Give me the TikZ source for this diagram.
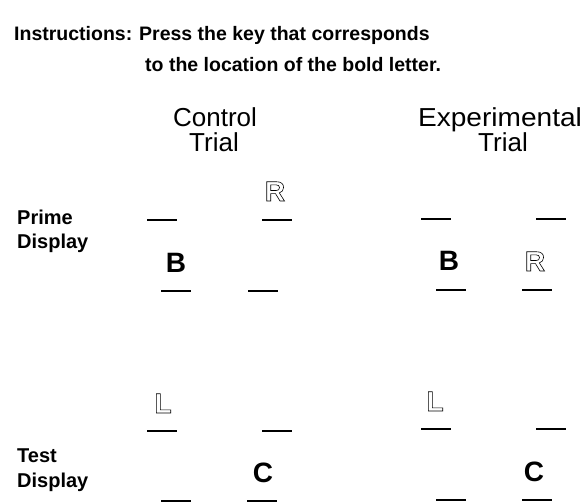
\documentclass[tikz,border=0pt]{standalone}
\usepackage{fontspec}
\setmainfont{Liberation Sans}
% stroked (hollow) glyphs via the PDF text rendering mode
\newcommand{\hollow}[1]{\special{pdf:literal direct 1 Tr 0.6 w}#1\special{pdf:literal direct 0 Tr}}
\tikzset{
  lbl/.style={inner sep=0pt, anchor=base west, font=\fontsize{20}{24}\bfseries\selectfont},
  instr/.style={inner sep=0pt, anchor=base west, font=\fontsize{19.5}{24}\bfseries\selectfont},
  head/.style={inner sep=0pt, anchor=base, font=\fontsize{26}{30}\selectfont},
  solid letter/.style={inner sep=0pt, anchor=base, font=\fontsize{28}{32}\bfseries\selectfont},
  open letter/.style={inner sep=0pt, anchor=base, font=\fontsize{28}{32}\bfseries\selectfont},
  keyline/.style={line width=1.3pt, line cap=butt}
}
% one response position: a short line centred at (x,y)
\newcommand{\keyat}[2]{\draw[keyline] (#1-15,#2) -- (#1+15,#2);}
\begin{document}
\begin{tikzpicture}[x=1pt, y=-1pt]
\useasboundingbox (0,0) rectangle (587,502);

% instructions
\node[instr] (instr) at (14,41) {Instructions:};
\node[instr] (instrA) at (139,41) {Press the key that corresponds};
\node[instr] (instrB) at (145,72) {to the location of the bold letter.};

% column headings
\node[head] (ctrl) at (215,127) {Control};
\node[head] (ctrlB) at (214,152) {Trial};
\node[head] (expt) at (500,127) {\addfontfeature{FakeStretch=1.08}Experimental};
\node[head] (exptB) at (503,152) {Trial};

% row labels
\node[lbl] (primeA) at (17,225) {Prime};
\node[lbl] (primeB) at (17,249) {Display};
\node[lbl] (testA) at (17,463) {Test};
\node[lbl] (testB) at (17,488) {Display};

% control trial, prime display
\keyat{162}{220} \keyat{277}{220}
\keyat{176}{291} \keyat{263}{291}
\node[open letter] (cR) at (275,201) {\hollow{R}};
\node[solid letter] (cB) at (176,273) {B};

% experimental trial, prime display
\keyat{436}{219} \keyat{551}{219}
\keyat{451}{290} \keyat{537}{290}
\node[solid letter] (eB) at (449,271) {B};
\node[open letter] (eR) at (535,271) {\hollow{R}};

% control trial, test display
\keyat{162}{431} \keyat{277}{431}
\keyat{176}{501} \keyat{262}{501}
\node[open letter] (cL) at (163,413) {\hollow{L}};
\node[solid letter] (cC) at (263,483) {C};

% experimental trial, test display
\keyat{436}{429} \keyat{551}{429}
\keyat{451}{500} \keyat{537}{500}
\node[open letter] (eL) at (435,411) {\hollow{L}};
\node[solid letter] (eC) at (534,482) {C};
\end{tikzpicture}
\end{document}
